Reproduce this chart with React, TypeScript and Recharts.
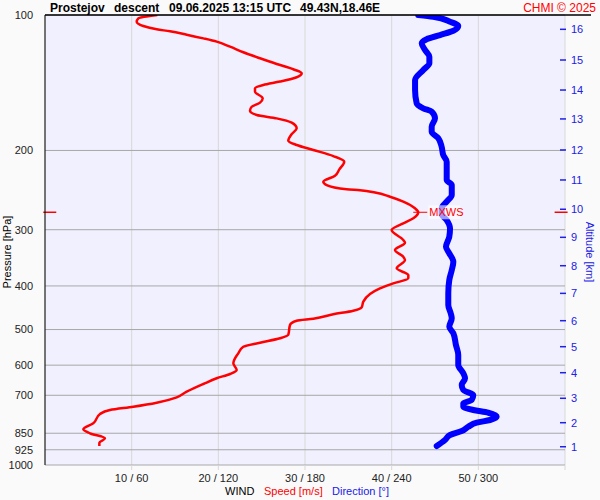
import React from 'react';
import {
  ScatterChart,
  Scatter,
  XAxis,
  YAxis,
  CartesianGrid,
  ReferenceLine,
} from 'recharts';

// Wind speed profile (m/s) against pressure (hPa), top to bottom
const SPEED_P = [
  100, 101.7, 103.5, 105.8, 107.6, 108.7, 110.6, 112.7, 114.6, 117.6, 121.0, 124.8, 128.5, 132.0,
  134.7, 137.5, 140.6, 143.1, 145.5, 148.1, 153.1, 156.6, 159.9, 163.2, 166.8, 169.7, 173.5, 178.6,
  183.9, 190.3, 194.5, 199.5, 205.8, 211.8, 220.3, 227.6, 234.7, 238.7, 244.0, 245.2, 248.0, 253.4,
  259.9, 268.9, 274.4, 283.0, 290.4, 300.5, 316.2, 320.7, 332.9, 344.5, 350.4, 365.6, 378.4, 384.8,
  394.8, 405.0, 416.9, 433.6, 446.2, 454.1, 462.5, 473.0, 477.9, 488.5, 514.0, 522.9, 534.8, 545.9,
  564.7, 594.3, 615.0, 627.7, 641.7, 660.7, 687.3, 707.3, 727.1, 742.1, 754.7, 770.3, 807.9, 833.1,
  850.3, 872.6, 892.4, 907.6,
];
const SPEED_MS = [
  12.96, 10.77, 10.58, 11.34, 12.89, 14.42, 16.35, 18.27, 19.81, 21.35, 22.88, 24.81, 26.73, 28.65,
  29.62, 29.04, 27.12, 25.19, 24.23, 24.23, 25.12, 24.81, 23.85, 23.65, 24.43, 26.73, 28.47, 29.04,
  28.47, 28.07, 29.04, 30.96, 33.27, 34.53, 33.96, 33.46, 32.11, 32.5, 34.81, 36.35, 38.08, 39.81,
  41.34, 42.69, 43.07, 42.5, 41.34, 40.0, 41.34, 41.54, 40.38, 41.34, 41.54, 40.58, 41.92, 41.92,
  40.19, 38.65, 37.5, 36.73, 36.54, 35.57, 33.27, 30.96, 29.04, 28.27, 28.07, 27.12, 24.81, 22.88,
  22.3, 21.73, 22.12, 21.35, 19.81, 18.27, 16.35, 15.2, 12.89, 10.19, 7.5, 6.35, 5.57, 4.42,
  5.19, 6.92, 6.27, 6.27,
];

// Wind direction profile (deg) against pressure (hPa)
const DIR_P = [
  100, 100.9, 103.5, 105.8, 108.4, 110.8, 113.2, 115.6, 119.6, 123.8, 128.0, 132.5, 139.5, 146.8,
  157.1, 161.2, 164.0, 169.7, 177.1, 181.7, 187.9, 196.2, 204.7, 211.8, 224.8, 232.6, 238.7, 251.2,
  259.9, 268.9, 276.8, 285.5, 297.9, 311.0, 327.4, 338.5, 353.5, 368.8, 388.1, 415.5, 441.0, 460.2,
  472.1, 492.8, 509.6, 541.2, 569.6, 599.5, 625.5, 641.7, 664.1, 681.3, 699.0, 717.1, 729.4, 742.1,
  754.7, 765.3, 781.1, 794.3, 805.4, 822.0, 840.3, 857.7, 880.3, 907.6,
];
const DIR_DEG = [
  258.4, 268.8, 280.4, 286.1, 282.7, 273.5, 264.2, 260.8, 263.1, 266.1, 266.1, 261.9, 256.2, 256.2,
  257.3, 261.9, 267.7, 270.0, 267.7, 267.7, 272.3, 274.6, 275.7, 278.1, 278.1, 278.1, 281.6, 281.6,
  278.1, 274.6, 274.6, 278.1, 280.4, 279.9, 277.6, 279.9, 282.7, 281.6, 279.9, 279.2, 279.2, 280.9,
  281.6, 279.9, 282.7, 284.5, 286.1, 286.1, 289.6, 290.8, 288.5, 289.6, 296.5, 295.4, 289.6, 289.6,
  296.5, 306.9, 312.7, 308.1, 298.9, 293.1, 288.5, 280.4, 276.9, 271.2,
];

const PRESSURE_TICKS = [100, 200, 300, 400, 500, 600, 700, 850, 925, 1000];
const SPEED_TICKS = [10, 20, 30, 40, 50, 60];
const ALT_KM = [1, 2, 3, 4, 5, 6, 7, 8, 9, 10, 11, 12, 13, 14, 15, 16];
const ALT_P = [
  910.8, 805.4, 710.8, 623.6, 545.9, 477.9, 415.5, 360.7, 311.9, 270.2, 232.6, 199.5, 170.2, 146.8,
  125.9, 107.6,
];

const speedData = SPEED_P.map((p, i) => ({ p, speed: SPEED_MS[i] }));
const dirData = DIR_P.map((p, i) => ({ p, dir: DIR_DEG[i] }));

// maximum wind level
const maxIdx = SPEED_MS.indexOf(Math.max(...SPEED_MS));
const MXWS_P = SPEED_P[maxIdx];
const MXWS_S = SPEED_MS[maxIdx];
const mxwsData = [{ p: MXWS_P, speed: MXWS_S }];

const FONT = '"Liberation Sans", Arial, sans-serif';
const RED = '#FF0000';
const BLUE = '#0000FF';
const ALT_BLUE = '#2020E8';

const AltTick = (props: any) => {
  const { x, y, payload } = props;
  const i = ALT_P.indexOf(payload.value);
  return (
    <g>
      <line x1={x - 11} x2={x - 5} y1={y} y2={y} stroke={ALT_BLUE} strokeWidth={1.5} />
      <text x={x} y={y} dy={4} fontSize={11} fill={ALT_BLUE} fontFamily={FONT}>
        {ALT_KM[i]}
      </text>
    </g>
  );
};

// marker for the max wind: short tick, label on a pale box
const MxwsMark = (props: any) => {
  const { cx, cy } = props;
  return (
    <g>
      <line x1={cx - 5} x2={cx + 9} y1={cy} y2={cy} stroke={RED} strokeWidth={1} />
      <rect x={cx + 10} y={cy - 7} width={32} height={14} fill="#ffffff" fillOpacity={0.6} />
      <text x={cx + 11} y={cy + 4} fontSize={11} fill={RED} fontFamily={FONT}>
        MXWS
      </text>
    </g>
  );
};

export default function App() {
  return (
    <div
      style={{
        position: 'absolute',
        left: 0,
        top: 0,
        width: 600,
        height: 500,
        background: '#FAFAFA',
        fontFamily: FONT,
      }}
    >
      <ScatterChart width={600} height={500} margin={{ top: 15, right: 0, bottom: 0, left: 0 }}>
        <CartesianGrid
          xAxisId="speed"
          yAxisId="p"
          horizontal={false}
          stroke="#D8D8D8"
          fill="#F0F0FF"
        />
        <CartesianGrid xAxisId="speed" yAxisId="p" vertical={false} stroke="#A8A8A8" />
        <XAxis
          xAxisId="dir"
          type="number"
          dataKey="dir"
          domain={[0, 360]}
          orientation="top"
          height={0}
          hide
          allowDataOverflow
        />
        <XAxis
          xAxisId="speed"
          type="number"
          dataKey="speed"
          domain={[0, 60]}
          ticks={SPEED_TICKS}
          interval={0}
          allowDataOverflow
          tickFormatter={(v) => (v === 60 ? '' : `${v} / ${v * 6}`)}
          axisLine={false}
          tickLine={{ stroke: '#D8D8D8' }}
          tickSize={5}
          tickMargin={4}
          height={35}
          tick={{ fontSize: 11, fill: '#222', fontFamily: FONT }}
        />
        <YAxis
          yAxisId="p"
          type="number"
          dataKey="p"
          scale="log"
          domain={[100, 1000]}
          reversed
          allowDataOverflow
          ticks={PRESSURE_TICKS}
          interval={0}
          width={45}
          axisLine={{ stroke: '#000' }}
          tickLine={false}
          tickMargin={6}
          tick={{ fontSize: 11, fill: '#222', fontFamily: FONT }}
        />
        <YAxis
          yAxisId="alt"
          orientation="right"
          type="number"
          dataKey="p"
          scale="log"
          domain={[100, 1000]}
          reversed
          allowDataOverflow
          ticks={ALT_P}
          interval={0}
          width={35}
          axisLine={false}
          tickLine={false}
          tickSize={0}
          tickMargin={6}
          tick={<AltTick />}
        />
        <ReferenceLine
          xAxisId="speed"
          yAxisId="p"
          segment={[
            { x: -0.2, y: MXWS_P },
            { x: 1.3, y: MXWS_P },
          ]}
          stroke={RED}
          strokeWidth={1.5}
          ifOverflow="visible"
        />
        <ReferenceLine
          xAxisId="speed"
          yAxisId="p"
          segment={[
            { x: 58.8, y: MXWS_P },
            { x: 60.3, y: MXWS_P },
          ]}
          stroke={RED}
          strokeWidth={1.5}
          ifOverflow="visible"
        />
        <Scatter
          xAxisId="dir"
          yAxisId="p"
          data={dirData}
          line={{ stroke: BLUE, strokeWidth: 6, strokeLinecap: 'round', strokeLinejoin: 'round' }}
          lineJointType="monotoneY"
          shape={() => <g />}
          isAnimationActive={false}
        />
        <Scatter
          xAxisId="speed"
          yAxisId="p"
          data={speedData}
          line={{ stroke: RED, strokeWidth: 2.5, strokeLinejoin: 'round' }}
          lineJointType="monotoneY"
          shape={() => <g />}
          isAnimationActive={false}
        />
        <Scatter
          xAxisId="speed"
          yAxisId="p"
          data={mxwsData}
          shape={<MxwsMark />}
          isAnimationActive={false}
        />
      </ScatterChart>
      <svg
        width={600}
        height={500}
        style={{ position: 'absolute', left: 0, top: 0, pointerEvents: 'none' }}
      >
        <line x1={45} x2={591} y1={15} y2={15} stroke="#000" strokeWidth={1.5} />
        <text y={12} fontSize={12} fontWeight="bold" fill="#000" fontFamily={FONT}>
          <tspan x={50}>Prostejov</tspan>
          <tspan x={114}>descent</tspan>
          <tspan x={169}>09.06.2025 13:15 UTC</tspan>
          <tspan x={300}>49.43N,18.46E</tspan>
        </text>
        <text x={596} y={12} fontSize={12} fill={RED} textAnchor="end" fontFamily={FONT}>
          CHMI © 2025
        </text>
        <text
          transform="translate(11,252) rotate(-90)"
          fontSize={11}
          fill="#000"
          textAnchor="middle"
          fontFamily={FONT}
        >
          Pressure [hPa]
        </text>
        <text
          transform="translate(586,252) rotate(90)"
          fontSize={11}
          fill={ALT_BLUE}
          textAnchor="middle"
          fontFamily={FONT}
        >
          Altitude [km]
        </text>
        <text y={495} fontSize={11} fontFamily={FONT}>
          <tspan x={225} fill="#000">WIND</tspan>
          <tspan x={264} fill={RED}>Speed [m/s]</tspan>
          <tspan x={332} fill={ALT_BLUE}>Direction [°]</tspan>
        </text>
      </svg>
    </div>
  );
}
